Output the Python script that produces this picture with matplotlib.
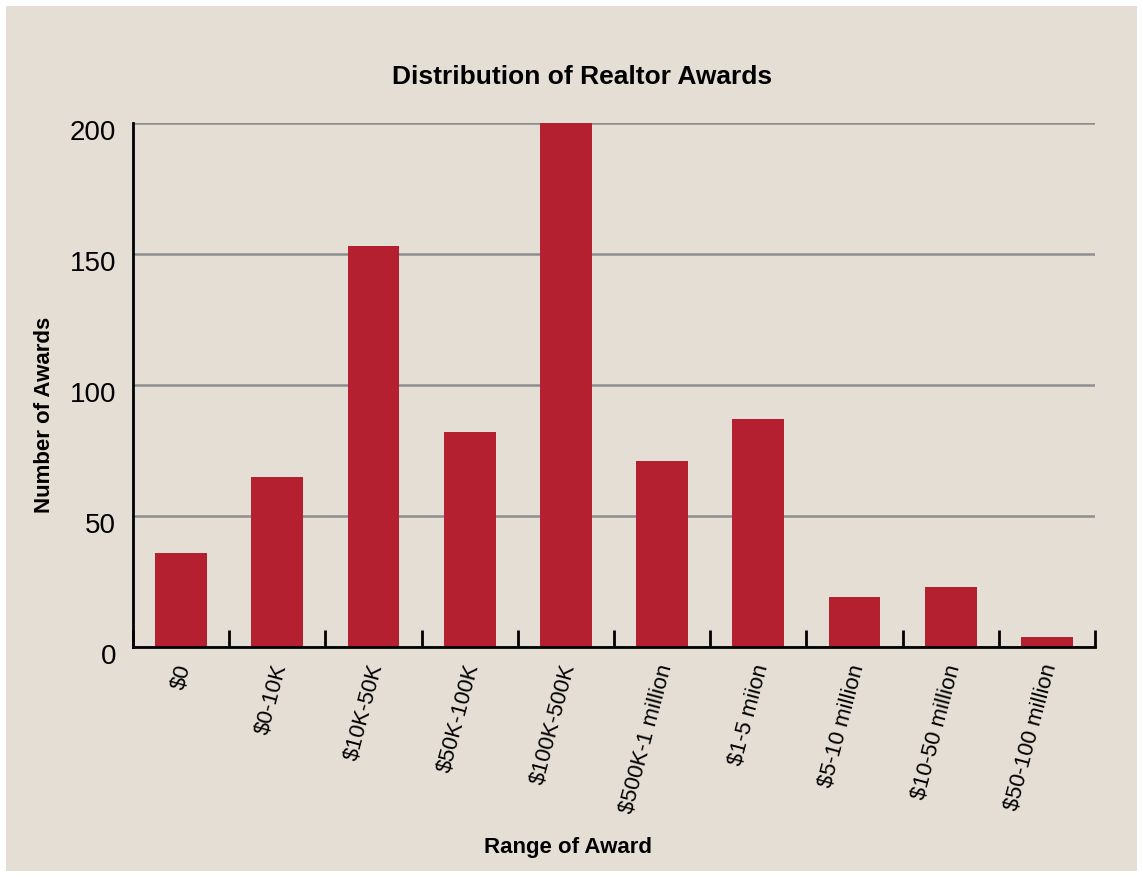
import numpy as np
import matplotlib.pyplot as plt
import matplotlib.transforms as mtransforms
from matplotlib.patches import Rectangle

categories = ["$0", "$0-10K", "$10K-50K", "$50K-100K", "$100K-500K",
              "$500K-1 million", "$1-5 miion", "$5-10 million",
              "$10-50 million", "$50-100 million"]
awards = [36, 65, 153, 82, 200, 71, 87, 19, 23, 4]
yticks = [0, 50, 100, 150, 200]

bg = "#e5ded4"
red = "#b52030"

plt.rcParams['font.family'] = ['Liberation Sans', 'DejaVu Sans']

fig = plt.figure(figsize=(11.43, 8.79), dpi=100)
fig.patch.set_facecolor("white")
fig.patches.append(Rectangle((6 / 1143, 7 / 879), 1131 / 1143, 865 / 879,
                             transform=fig.transFigure, facecolor=bg,
                             edgecolor="none", zorder=-5))

ax = fig.add_axes([133 / 1143, 1 - 648 / 879, 962 / 1143, 524 / 879])
ax.patch.set_alpha(0)

x = np.arange(len(categories))
ax.bar(x, awards, width=0.54, color=red, zorder=3)

ax.set_xlim(-0.5, len(categories) - 0.5)
ax.set_ylim(0, 200)
ax.set_yticks(yticks)
ax.set_yticklabels([str(v) for v in yticks], fontsize=20)
ax.tick_params(axis='y', length=0, pad=12)
ax.grid(axis='y', color="#8e8e8e", linewidth=1.8, zorder=1)
ax.set_axisbelow(True)
ydown = mtransforms.ScaledTranslation(0, -6 / 100, fig.dpi_scale_trans)
for lab in ax.get_yticklabels():
    lab.set_transform(lab.get_transform() + ydown)

ax.set_xticks(x)
ax.set_xticklabels(categories, rotation=75, ha='right', va='center',
                   rotation_mode='anchor', fontsize=16)
ax.tick_params(axis='x', length=0, pad=12)
xshift = mtransforms.ScaledTranslation(4 / 100, 0, fig.dpi_scale_trans)
for lab in ax.get_xticklabels():
    lab.set_transform(lab.get_transform() + xshift)
ax.set_xticks(np.arange(-0.5, len(categories)), minor=True)
ax.tick_params(axis='x', which='minor', direction='in', length=12, width=2,
               color="black")

for s in ['top', 'right']:
    ax.spines[s].set_visible(False)
ax.spines['left'].set_linewidth(2)
ax.spines['bottom'].set_linewidth(2)
ax.spines['left'].set_zorder(4)
ax.spines['bottom'].set_zorder(4)

fig.text(0.509, 1 - 77 / 879, "Distribution of Realtor Awards", ha='center',
         va='center', fontsize=19, fontweight='bold')
fig.text(0.497, 1 - 848 / 879, "Range of Award", ha='center', va='center',
         fontsize=16, fontweight='bold')
fig.text(45 / 1143, 1 - 415 / 879, "Number of Awards", ha='center',
         va='center', rotation=90, fontsize=16, fontweight='bold')

fig.savefig("out.png", dpi=100)
